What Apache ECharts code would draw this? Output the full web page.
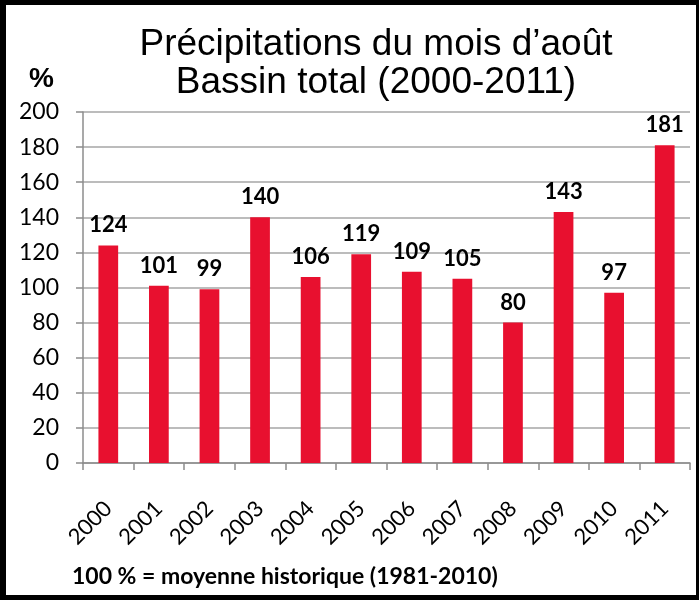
<!DOCTYPE html>
<html>
<head>
<meta charset="utf-8">
<script src="https://cdn.jsdelivr.net/npm/echarts@6/dist/echarts.min.js"></script>
<style>
  html, body { margin: 0; padding: 0; background: #fff; }
  #main { width: 699px; height: 600px; box-sizing: border-box; border-style: solid; border-color: #000; border-width: 5px 3px 5px 6px; }
</style>
</head>
<body>
<div id="main"></div>
<script>
var years = ["2000", "2001", "2002", "2003", "2004", "2005", "2006", "2007", "2008", "2009", "2010", "2011"];
var values = [124, 101, 99, 140, 106, 119, 109, 105, 80, 143, 97, 181];
var yTicks = { min: 0, max: 200, step: 20 };

var chart = echarts.init(document.getElementById('main'));
var option = {
	animation: false,
	title: [{
		text: "Précipitations du mois d’août\nBassin total (2000-2011)",
		left: 365,
		top: 16,
		textAlign: 'center',
		textStyle: {
			fontFamily: "'Liberation Sans', sans-serif",
			fontSize: 37,
			fontWeight: 'normal',
			color: '#000',
			lineHeight: 38
		}
	}, {
		text: "%",
		left: 18,
		top: 55,
		textStyle: { fontFamily: "'Liberation Sans', sans-serif", fontSize: 28, fontWeight: 'bold', color: '#000' }
	}, {
		text: "100 % = moyenne historique (1981-2010)",
		left: 61,
		top: 555,
		textStyle: { fontFamily: 'Lato, sans-serif', fontSize: 23, fontWeight: 'bold', color: '#000' }
	}],
	grid: { left: 77, right: 6, top: 107, bottom: 132 },
	xAxis: {
		type: 'category',
		data: years,
		axisLine: { lineStyle: { color: '#8c8c8c', width: 1.5 } },
		axisTick: { show: true, length: 7, lineStyle: { color: '#8c8c8c', width: 1.5 } },
		axisLabel: { rotate: 45, margin: 42, color: '#000', fontSize: 22, fontFamily: 'Lato, sans-serif' }
	},
	yAxis: {
		type: 'value',
		min: yTicks.min,
		max: yTicks.max,
		interval: yTicks.step,
		axisLine: { show: true, lineStyle: { color: '#8c8c8c', width: 1.5 } },
		axisTick: { show: true, length: 7, lineStyle: { color: '#8c8c8c', width: 1.5 } },
		axisLabel: { margin: 24, color: '#000', fontSize: 23, fontFamily: 'Lato, sans-serif' },
		splitLine: { lineStyle: { color: '#a6a6a6', width: 1.5 } }
	},
	series: [{
		type: 'bar',
		data: values,
		barWidth: '39%',
		itemStyle: { color: '#E8102F' },
		label: {
			show: true,
			position: 'top',
			distance: 9,
			color: '#000',
			fontSize: 22,
			fontWeight: 'bold',
			fontFamily: 'Lato, sans-serif'
		}
	}]
};
chart.setOption(option);
</script>
</body>
</html>
